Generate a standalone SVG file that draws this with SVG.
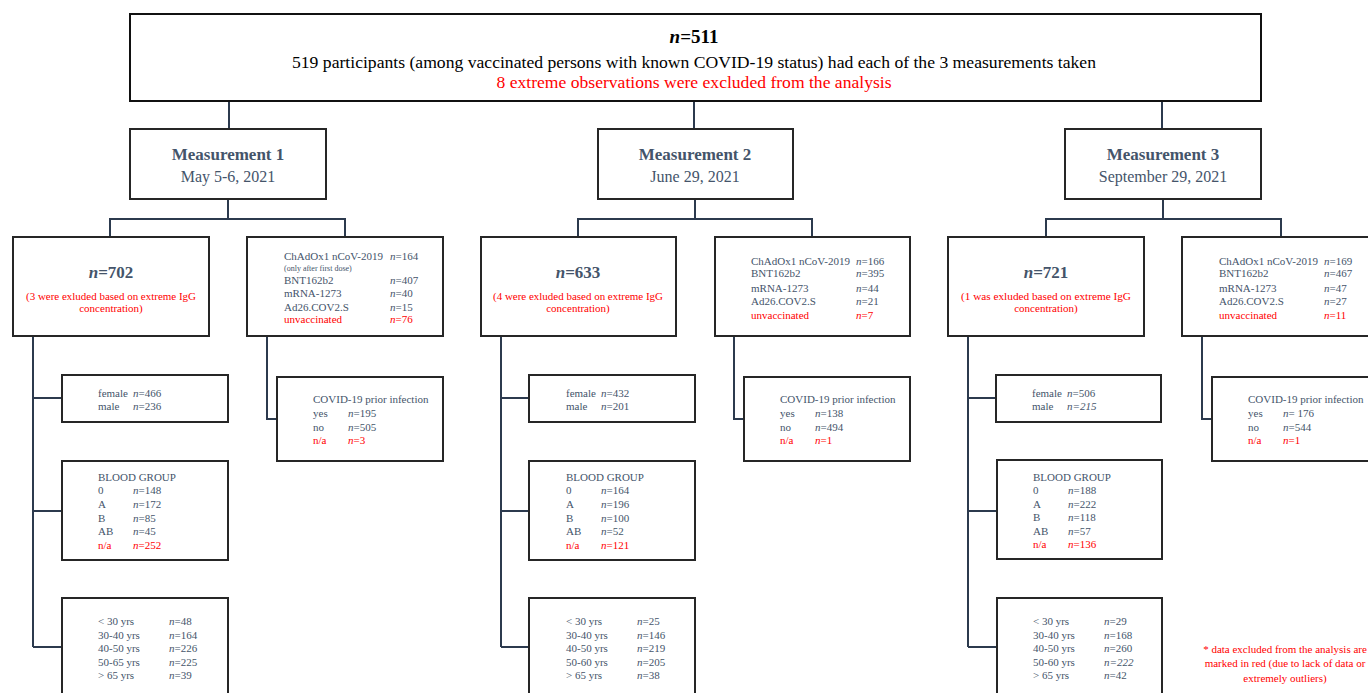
<svg xmlns="http://www.w3.org/2000/svg" width="1368" height="693" viewBox="0 0 1368 693">
<style>
.box{fill:#ffffff;stroke:#262626;stroke-width:2}
.top{fill:#ffffff;stroke:#111111;stroke-width:2}
.conn{fill:none;stroke:#2c3a4e;stroke-width:2}
.t{font-family:"Liberation Serif","Times New Roman",serif;fill:#44546A;font-size:11px}
.s{font-size:8px}
.h{font-size:17px;font-weight:bold;text-anchor:middle}
.d{font-size:16px;text-anchor:middle}
.nb{font-size:17px;font-weight:bold;text-anchor:middle}
.c{text-anchor:middle}
.r{fill:#ff0000}
.k{fill:#000000}
.i{font-style:italic}
</style>
<rect width="1368" height="693" fill="#ffffff"/>

<g id="connectors">
  <path class="conn" d="M229 101V129M694 101V129M1162 101V129"/>
  <!-- column 1 -->
  <path class="conn" d="M228 199V219M110 237V219H345V237"/>
  <path class="conn" d="M33 336V647M33 398H62M33 511H62M33 647H62"/>
  <path class="conn" d="M267 336V419H277"/>
  <!-- column 2 -->
  <path class="conn" d="M695 199V219M578 237V219H812V237"/>
  <path class="conn" d="M501 336V647M501 398H529M501 511H529M501 647H529"/>
  <path class="conn" d="M734 336V419H744"/>
  <!-- column 3 -->
  <path class="conn" d="M1163 199V219M1046 237V219H1281V237"/>
  <path class="conn" d="M968 336V647M968 398H996M968 511H997M968 647H997"/>
  <path class="conn" d="M1202 336V419H1212"/>
</g>

<g id="top">
  <rect class="top" x="130" y="14" width="1131" height="87"/>
  <text class="t k" x="694" y="43" style="font-size:19px;font-weight:bold" text-anchor="middle"><tspan class="i">n</tspan>=511</text>
  <text class="t k" x="694" y="68" style="font-size:16.5px" text-anchor="middle" textLength="804" lengthAdjust="spacingAndGlyphs">519 participants (among vaccinated persons with known COVID-19 status) had each of the 3 measurements taken</text>
  <text class="t r" x="694" y="88" style="font-size:16.5px" text-anchor="middle" textLength="395" lengthAdjust="spacingAndGlyphs">8 extreme observations were excluded from the analysis</text>
</g>

<!-- ================= Column 1 ================= -->
<g id="m1">
  <rect class="box" x="130" y="129" width="196" height="70"/>
  <text class="t h" x="228" y="160">Measurement 1</text>
  <text class="t d" x="228" y="182">May 5-6, 2021</text>
</g>
<g id="m1-n">
  <rect class="box" x="13" y="237" width="196" height="99"/>
  <text class="t nb" x="111" y="278"><tspan class="i">n</tspan>=702</text>
  <text class="t r c" x="111" y="300" textLength="170" lengthAdjust="spacingAndGlyphs">(3 were exluded based on extreme IgG</text>
  <text class="t r c" x="111" y="312">concentration)</text>
</g>
<g id="m1-vacc">
  <rect class="box" x="247" y="237" width="196" height="99"/>
  <text class="t" x="284" y="260">ChAdOx1 nCoV-2019</text><text class="t" x="390" y="260"><tspan class="i">n</tspan>=164</text>
  <text class="t s" x="284" y="271">(only after first dose)</text>
  <text class="t" x="284" y="284">BNT162b2</text><text class="t" x="390" y="284"><tspan class="i">n</tspan>=407</text>
  <text class="t" x="284" y="297">mRNA-1273</text><text class="t" x="390" y="297"><tspan class="i">n</tspan>=40</text>
  <text class="t" x="284" y="311">Ad26.COV2.S</text><text class="t" x="390" y="311"><tspan class="i">n</tspan>=15</text>
  <text class="t r" x="284" y="323">unvaccinated</text><text class="t r" x="390" y="323"><tspan class="i">n</tspan>=76</text>
</g>
<g id="m1-covid">
  <rect class="box" x="277" y="377" width="166" height="84"/>
  <text class="t" x="313" y="403">COVID-19 prior infection</text>
  <text class="t" x="313" y="417">yes</text><text class="t" x="348" y="417"><tspan class="i">n</tspan>=195</text>
  <text class="t" x="313" y="431">no</text><text class="t" x="348" y="431"><tspan class="i">n</tspan>=505</text>
  <text class="t r" x="313" y="444">n/a</text><text class="t r" x="348" y="444"><tspan class="i">n</tspan>=3</text>
</g>
<g id="m1-sex">
  <rect class="box" x="62" y="375" width="166" height="47"/>
  <text class="t" x="98" y="397">female</text><text class="t" x="133" y="397"><tspan class="i">n</tspan>=466</text>
  <text class="t" x="98" y="410">male</text><text class="t" x="133" y="410"><tspan class="i">n</tspan>=236</text>
</g>
<g id="m1-blood">
  <rect class="box" x="62" y="461" width="166" height="99"/>
  <text class="t" x="98" y="481">BLOOD GROUP</text>
  <text class="t" x="98" y="494">0</text><text class="t" x="133" y="494"><tspan class="i">n</tspan>=148</text>
  <text class="t" x="98" y="508">A</text><text class="t" x="133" y="508"><tspan class="i">n</tspan>=172</text>
  <text class="t" x="98" y="522">B</text><text class="t" x="133" y="522"><tspan class="i">n</tspan>=85</text>
  <text class="t" x="98" y="535">AB</text><text class="t" x="133" y="535"><tspan class="i">n</tspan>=45</text>
  <text class="t r" x="98" y="549">n/a</text><text class="t r" x="133" y="549"><tspan class="i">n</tspan>=252</text>
</g>
<g id="m1-age">
  <rect class="box" x="62" y="598" width="166" height="110"/>
  <text class="t" x="98" y="625">&lt; 30 yrs</text><text class="t" x="169" y="625"><tspan class="i">n</tspan>=48</text>
  <text class="t" x="98" y="639">30-40 yrs</text><text class="t" x="169" y="639"><tspan class="i">n</tspan>=164</text>
  <text class="t" x="98" y="652">40-50 yrs</text><text class="t" x="169" y="652"><tspan class="i">n</tspan>=226</text>
  <text class="t" x="98" y="666">50-65 yrs</text><text class="t" x="169" y="666"><tspan class="i">n</tspan>=225</text>
  <text class="t" x="98" y="679">&gt; 65 yrs</text><text class="t" x="169" y="679"><tspan class="i">n</tspan>=39</text>
</g>

<!-- ================= Column 2 ================= -->
<g id="m2">
  <rect class="box" x="598" y="129" width="195" height="70"/>
  <text class="t h" x="695" y="160">Measurement 2</text>
  <text class="t d" x="695" y="182">June 29, 2021</text>
</g>
<g id="m2-n">
  <rect class="box" x="481" y="237" width="195" height="99"/>
  <text class="t nb" x="578" y="278"><tspan class="i">n</tspan>=633</text>
  <text class="t r c" x="578" y="300" textLength="170" lengthAdjust="spacingAndGlyphs">(4 were exluded based on extreme IgG</text>
  <text class="t r c" x="578" y="312">concentration)</text>
</g>
<g id="m2-vacc">
  <rect class="box" x="715" y="237" width="195" height="99"/>
  <text class="t" x="751" y="265">ChAdOx1 nCoV-2019</text><text class="t" x="856" y="265"><tspan class="i">n</tspan>=166</text>
  <text class="t" x="751" y="277">BNT162b2</text><text class="t" x="856" y="277"><tspan class="i">n</tspan>=395</text>
  <text class="t" x="751" y="292">mRNA-1273</text><text class="t" x="856" y="292"><tspan class="i">n</tspan>=44</text>
  <text class="t" x="751" y="305">Ad26.COV2.S</text><text class="t" x="856" y="305"><tspan class="i">n</tspan>=21</text>
  <text class="t r" x="751" y="319">unvaccinated</text><text class="t r" x="856" y="319"><tspan class="i">n</tspan>=7</text>
</g>
<g id="m2-covid">
  <rect class="box" x="744" y="377" width="166" height="84"/>
  <text class="t" x="780" y="403">COVID-19 prior infection</text>
  <text class="t" x="780" y="417">yes</text><text class="t" x="815" y="417"><tspan class="i">n</tspan>=138</text>
  <text class="t" x="780" y="431">no</text><text class="t" x="815" y="431"><tspan class="i">n</tspan>=494</text>
  <text class="t r" x="780" y="444">n/a</text><text class="t r" x="815" y="444"><tspan class="i">n</tspan>=1</text>
</g>
<g id="m2-sex">
  <rect class="box" x="529" y="375" width="166" height="47"/>
  <text class="t" x="566" y="397">female</text><text class="t" x="601" y="397"><tspan class="i">n</tspan>=432</text>
  <text class="t" x="566" y="410">male</text><text class="t" x="601" y="410"><tspan class="i">n</tspan>=201</text>
</g>
<g id="m2-blood">
  <rect class="box" x="529" y="461" width="166" height="99"/>
  <text class="t" x="566" y="481">BLOOD GROUP</text>
  <text class="t" x="566" y="494">0</text><text class="t" x="601" y="494"><tspan class="i">n</tspan>=164</text>
  <text class="t" x="566" y="508">A</text><text class="t" x="601" y="508"><tspan class="i">n</tspan>=196</text>
  <text class="t" x="566" y="522">B</text><text class="t" x="601" y="522"><tspan class="i">n</tspan>=100</text>
  <text class="t" x="566" y="535">AB</text><text class="t" x="601" y="535"><tspan class="i">n</tspan>=52</text>
  <text class="t r" x="566" y="549">n/a</text><text class="t r" x="601" y="549"><tspan class="i">n</tspan>=121</text>
</g>
<g id="m2-age">
  <rect class="box" x="529" y="598" width="166" height="110"/>
  <text class="t" x="566" y="625">&lt; 30 yrs</text><text class="t" x="637" y="625"><tspan class="i">n</tspan>=25</text>
  <text class="t" x="566" y="639">30-40 yrs</text><text class="t" x="637" y="639"><tspan class="i">n</tspan>=146</text>
  <text class="t" x="566" y="652">40-50 yrs</text><text class="t" x="637" y="652"><tspan class="i">n</tspan>=219</text>
  <text class="t" x="566" y="666">50-60 yrs</text><text class="t" x="637" y="666"><tspan class="i">n</tspan>=205</text>
  <text class="t" x="566" y="679">&gt; 65 yrs</text><text class="t" x="637" y="679"><tspan class="i">n</tspan>=38</text>
</g>

<!-- ================= Column 3 ================= -->
<g id="m3">
  <rect class="box" x="1065" y="129" width="196" height="70"/>
  <text class="t h" x="1163" y="160">Measurement 3</text>
  <text class="t d" x="1163" y="182">September 29, 2021</text>
</g>
<g id="m3-n">
  <rect class="box" x="948" y="237" width="196" height="99"/>
  <text class="t nb" x="1046" y="278"><tspan class="i">n</tspan>=721</text>
  <text class="t r c" x="1046" y="300" textLength="170" lengthAdjust="spacingAndGlyphs">(1 was exluded based on extreme IgG</text>
  <text class="t r c" x="1046" y="312">concentration)</text>
</g>
<g id="m3-vacc">
  <rect class="box" x="1182" y="237" width="196" height="99"/>
  <text class="t" x="1219" y="265">ChAdOx1 nCoV-2019</text><text class="t" x="1324" y="265"><tspan class="i">n</tspan>=169</text>
  <text class="t" x="1219" y="277">BNT162b2</text><text class="t" x="1324" y="277"><tspan class="i">n</tspan>=467</text>
  <text class="t" x="1219" y="292">mRNA-1273</text><text class="t" x="1324" y="292"><tspan class="i">n</tspan>=47</text>
  <text class="t" x="1219" y="305">Ad26.COV2.S</text><text class="t" x="1324" y="305"><tspan class="i">n</tspan>=27</text>
  <text class="t r" x="1219" y="319">unvaccinated</text><text class="t r" x="1324" y="319"><tspan class="i">n</tspan>=11</text>
</g>
<g id="m3-covid">
  <rect class="box" x="1212" y="377" width="166" height="84"/>
  <text class="t" x="1248" y="403">COVID-19 prior infection</text>
  <text class="t" x="1248" y="417">yes</text><text class="t" x="1283" y="417"><tspan class="i">n</tspan>= 176</text>
  <text class="t" x="1248" y="431">no</text><text class="t" x="1283" y="431"><tspan class="i">n</tspan>=544</text>
  <text class="t r" x="1248" y="444">n/a</text><text class="t r" x="1283" y="444"><tspan class="i">n</tspan>=1</text>
</g>
<g id="m3-sex">
  <rect class="box" x="996" y="375" width="165" height="47"/>
  <text class="t" x="1032" y="397">female</text><text class="t" x="1067" y="397"><tspan class="i">n</tspan>=506</text>
  <text class="t" x="1032" y="410">male</text><text class="t i" x="1067" y="410">n=215</text>
</g>
<g id="m3-blood">
  <rect class="box" x="997" y="460" width="165" height="99"/>
  <text class="t" x="1033" y="481">BLOOD GROUP</text>
  <text class="t" x="1033" y="494">0</text><text class="t" x="1068" y="494"><tspan class="i">n</tspan>=188</text>
  <text class="t" x="1033" y="508">A</text><text class="t" x="1068" y="508"><tspan class="i">n</tspan>=222</text>
  <text class="t" x="1033" y="521">B</text><text class="t" x="1068" y="521"><tspan class="i">n</tspan>=118</text>
  <text class="t" x="1033" y="535">AB</text><text class="t" x="1068" y="535"><tspan class="i">n</tspan>=57</text>
  <text class="t r" x="1033" y="548">n/a</text><text class="t r" x="1068" y="548"><tspan class="i">n</tspan>=136</text>
</g>
<g id="m3-age">
  <rect class="box" x="997" y="598" width="165" height="110"/>
  <text class="t" x="1033" y="625">&lt; 30 yrs</text><text class="t" x="1104" y="625"><tspan class="i">n</tspan>=29</text>
  <text class="t" x="1033" y="639">30-40 yrs</text><text class="t" x="1104" y="639"><tspan class="i">n</tspan>=168</text>
  <text class="t" x="1033" y="652">40-50 yrs</text><text class="t" x="1104" y="652"><tspan class="i">n</tspan>=260</text>
  <text class="t" x="1033" y="666">50-60 yrs</text><text class="t i" x="1104" y="666">n=222</text>
  <text class="t" x="1033" y="679">&gt; 65 yrs</text><text class="t" x="1104" y="679"><tspan class="i">n</tspan>=42</text>
</g>

<g id="footnote">
  <text class="t r c" x="1285" y="653">* data excluded from the analysis are</text>
  <text class="t r c" x="1285" y="667">marked in red (due to lack of data or</text>
  <text class="t r c" x="1285" y="682">extremely outliers)</text>
</g>
</svg>
